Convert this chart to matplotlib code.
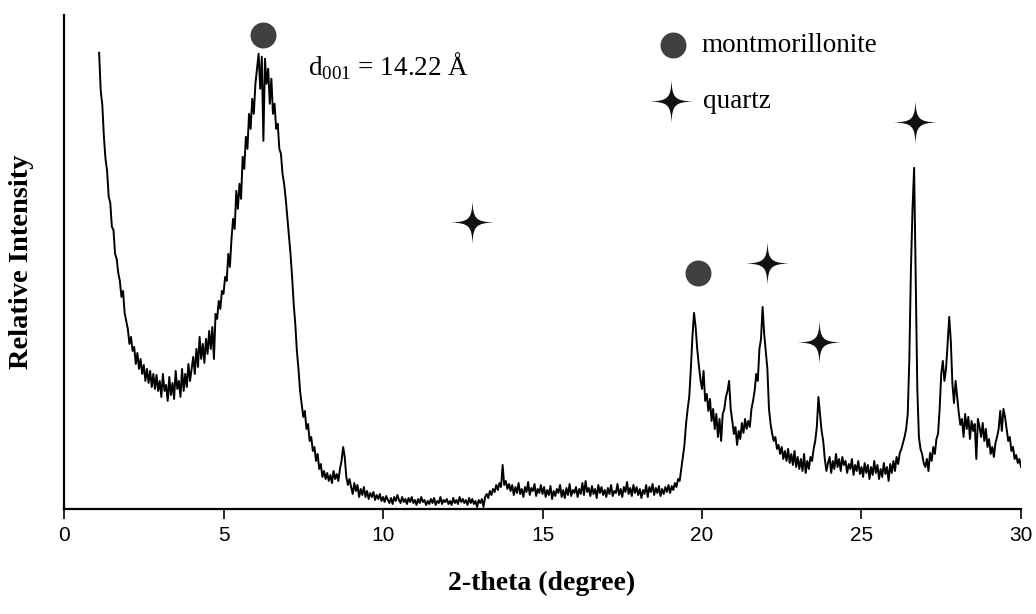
import numpy as np
import matplotlib
matplotlib.use("Agg")
import matplotlib.pyplot as plt
from matplotlib.path import Path

# XRD scan: 2-theta from 1.10 to 30.00 deg in 0.05 deg steps, relative counts
two_theta_start = 1.10
two_theta_step = 0.05
intensity = [
    # 1.10 - 1.95
    456, 418, 404, 372, 350, 338, 312, 306, 282, 279, 255, 250, 236, 228, 212, 218, 196, 188,
    # 2.00 - 2.95
    180, 165, 172, 158, 162, 145, 156, 140, 150, 135, 144, 128, 140, 126, 138, 122, 135, 120, 134, 118,
    # 3.00 - 3.95
    128, 112, 135, 118, 124, 108, 132, 114, 126, 110, 138, 120, 128, 112, 140, 118, 135, 122, 145, 128,
    # 4.00 - 4.95
    140, 152, 135, 160, 142, 172, 150, 165, 146, 170, 155, 178, 160, 182, 150, 195, 190, 208, 200, 218,
    # 5.00 - 5.95
    215, 232, 228, 255, 242, 270, 290, 280, 318, 300, 325, 310, 352, 340, 372, 360, 395, 380, 410, 395,
    # 6.00 - 6.95
    425, 440, 455, 420, 452, 368, 450, 425, 440, 405, 430, 395, 405, 380, 385, 360, 355, 335, 325, 310,
    # 7.00 - 7.95
    292, 275, 255, 232, 205, 185, 158, 140, 118, 105, 92, 98, 80, 85, 68, 72, 58, 62, 48, 55,
    # 8.00 - 8.95
    40, 45, 32, 38, 30, 36, 28, 34, 26, 38, 30, 35, 28, 40, 48, 62, 52, 32, 24, 30,
    # 9.00 - 9.95
    22, 15, 26, 18, 24, 12, 20, 14, 22, 12, 18, 10, 16, 12, 17, 9, 14, 10, 15, 8,
    # 10.00 - 10.95
    12, 7, 13, 9, 6, 11, 5, 12, 8, 14, 9, 6, 12, 7, 10, 5, 11, 7, 12, 6,
    # 11.00 - 11.95
    9, 4, 10, 6, 12, 7, 9, 4, 8, 5, 10, 6, 11, 4, 8, 6, 12, 5, 9, 7,
    # 12.00 - 12.95
    10, 5, 8, 4, 11, 6, 9, 5, 12, 7, 10, 6, 9, 4, 11, 6, 10, 5, 8, 2,
    # 13.00 - 13.95
    9, 6, 10, 2, 12, 15, 11, 18, 14, 20, 17, 24, 19, 26, 22, 44, 24, 28, 20, 25,
    # 14.00 - 14.95
    18, 24, 14, 22, 16, 26, 15, 20, 12, 22, 17, 27, 14, 21, 18, 25, 13, 20, 16, 24,
    # 15.00 - 15.95
    15, 22, 12, 19, 14, 23, 10, 18, 13, 20, 16, 24, 12, 19, 11, 21, 14, 25, 13, 19,
    # 16.00 - 16.95
    16, 22, 12, 20, 15, 26, 14, 28, 17, 21, 13, 23, 15, 20, 11, 24, 16, 22, 14, 19,
    # 17.00 - 17.95
    12, 21, 15, 24, 13, 18, 16, 25, 14, 20, 12, 22, 17, 27, 15, 21, 13, 24, 16, 22,
    # 18.00 - 18.95
    14, 20, 11, 19, 15, 24, 12, 22, 17, 25, 14, 21, 16, 23, 13, 20, 15, 22, 17, 24,
    # 19.00 - 19.95
    16, 23, 19, 26, 22, 30, 28, 40, 52, 64, 85, 100, 112, 140, 172, 196, 182, 160, 144, 130,
    # 20.00 - 20.95
    120, 138, 108, 115, 98, 110, 88, 100, 80, 95, 72, 90, 68, 95, 100, 112, 118, 128, 100, 88,
    # 21.00 - 21.95
    75, 82, 64, 78, 70, 86, 76, 90, 80, 88, 82, 100, 108, 118, 135, 128, 160, 170, 202, 175,
    # 22.00 - 22.95
    158, 140, 100, 85, 75, 68, 72, 60, 64, 55, 62, 50, 58, 48, 60, 46, 55, 44, 58, 42,
    # 23.00 - 23.95
    52, 40, 50, 38, 55, 36, 48, 40, 52, 48, 60, 68, 82, 112, 95, 78, 68, 50, 38, 46,
    # 24.00 - 24.95
    52, 36, 48, 40, 55, 42, 50, 38, 52, 44, 48, 36, 45, 40, 50, 34, 44, 38, 48, 35,
    # 25.00 - 25.95
    42, 32, 46, 36, 44, 30, 42, 34, 48, 36, 44, 30, 40, 32, 46, 35, 42, 28, 45, 36,
    # 26.00 - 26.95
    48, 38, 52, 45, 56, 60, 66, 72, 80, 95, 150, 240, 300, 341, 230, 120, 72, 60, 55, 46,
    # 27.00 - 27.95
    42, 50, 38, 56, 48, 62, 55, 70, 75, 100, 135, 148, 128, 140, 165, 192, 168, 125, 106, 128,
    # 28.00 - 28.95
    112, 96, 84, 90, 72, 95, 80, 92, 70, 88, 78, 85, 50, 90, 82, 72, 86, 68, 80, 62,
    # 29.00 - 30.00
    70, 55, 62, 52, 66, 72, 80, 98, 78, 100, 92, 80, 68, 72, 58, 62, 50, 54, 46, 50, 42,
]
two_theta = two_theta_start + two_theta_step * np.arange(len(intensity))

# Phase identification marks (2-theta, height)
montmorillonite_pos = [6.24, 19.87]
montmorillonite_h = [474, 236]
quartz_pos = [12.79, 22.03, 23.68, 26.68]
quartz_h = [287, 246, 167, 387]

x_ticks = [0, 5, 10, 15, 20, 25, 30]

serif = ["Liberation Serif", "DejaVu Serif"]
sans = ["Liberation Sans", "DejaVu Sans"]


def four_point_star(p=0.03, q=0.16):
    """Four-pointed star with slim, slightly concave arms."""
    tips = [(0, 1), (1, 0), (0, -1), (-1, 0)]
    verts = [tips[0]]
    codes = [Path.MOVETO]
    for i in range(4):
        (x0, y0), (x1, y1) = tips[i], tips[(i + 1) % 4]
        sx = 1 if (x0 + x1) >= 0 else -1
        sy = 1 if (y0 + y1) >= 0 else -1
        # control points pulled toward the centre between the two tips
        if x0 == 0:
            c1 = (sx * p, sy * q)
            c2 = (sx * q, sy * p)
        else:
            c1 = (sx * q, sy * p)
            c2 = (sx * p, sy * q)
        verts += [c1, c2, (x1, y1)]
        codes += [Path.CURVE4] * 3
    verts.append(tips[0])
    codes.append(Path.CLOSEPOLY)
    return Path(verts, codes)


star = four_point_star()

CIRCLE_COLOR = "#404040"
STAR_COLOR = "#111111"
CIRCLE_MS = 18.7
STAR_MS = 31.5

fig = plt.figure(figsize=(10.36, 6.14), dpi=100)
ax = fig.add_axes([0.0618, 0.171, 0.9237, 0.805])

ax.plot(two_theta, intensity, color="black", lw=1.4, zorder=3)

ax.plot(montmorillonite_pos, montmorillonite_h, ls="none", marker="o",
        ms=CIRCLE_MS, color=CIRCLE_COLOR, mec="none", zorder=4)
ax.plot(quartz_pos, quartz_h, ls="none", marker=star, ms=STAR_MS,
        color=STAR_COLOR, mec="none", zorder=4)

# key to the phase symbols
ax.plot([19.08], [463.5], ls="none", marker="o", ms=CIRCLE_MS, color=CIRCLE_COLOR,
        mec="none", zorder=4)
ax.text(19.99, 463.5, "montmorillonite", family=serif, fontsize=19.5,
        va="center", ha="left")
ax.plot([19.04], [407.5], ls="none", marker=star, ms=STAR_MS, color=STAR_COLOR,
        mec="none", zorder=4)
ax.text(20.03, 407.5, "quartz", family=serif, fontsize=19.5, va="center", ha="left")

ax.text(7.65, 443, r"d$_{\mathregular{001}}$ = 14.22 Å", family=serif, fontsize=19.5,
        va="center", ha="left")

ax.set_xlim(0, 30)
ax.set_ylim(0, 494)
ax.set_xticks(x_ticks)
ax.set_xticklabels([str(t) for t in x_ticks], family=sans, fontsize=15)
ax.set_yticks([])
ax.tick_params(axis="x", direction="out", length=7, width=1.2, pad=5, colors="black")

for side in ("top", "right"):
    ax.spines[side].set_visible(False)
for side in ("left", "bottom"):
    ax.spines[side].set_linewidth(1.6)
    ax.spines[side].set_color("black")

fig.text(542 / 1036, 1 - 583 / 614, "2-theta (degree)", family=serif, fontsize=20,
         fontweight="bold", ha="center", va="center")
fig.text(22 / 1036, 1 - 262 / 614, "Relative Intensity", family=serif, fontsize=20.5,
         fontweight="bold", ha="center", va="center", rotation=90)

fig.savefig("out.png", dpi=100)
